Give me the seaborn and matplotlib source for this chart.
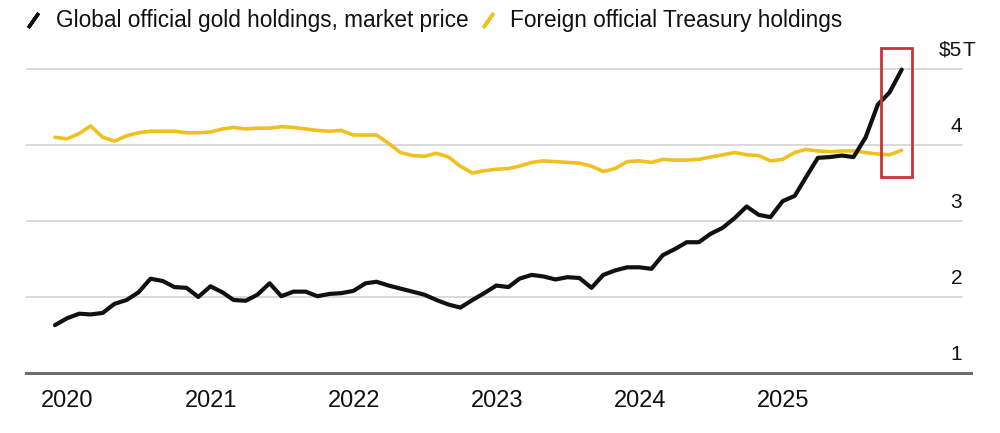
import pandas as pd
import numpy as np
import matplotlib
matplotlib.use("Agg")
import matplotlib.pyplot as plt
import matplotlib.transforms as mtransforms
from matplotlib.lines import Line2D
from matplotlib.patches import Rectangle
import seaborn as sns

# ---- data (trillions of USD, month-end) ----
dates = pd.date_range("2019-11-30", periods=72, freq="ME")

gold = [1.63, 1.72, 1.78, 1.77, 1.79, 1.91, 1.96, 2.06, 2.24, 2.21, 2.13, 2.12,
        2.00, 2.14, 2.06, 1.96, 1.95, 2.03, 2.18, 2.01, 2.07, 2.07, 2.01, 2.04,
        2.05, 2.08, 2.18, 2.20, 2.15, 2.11, 2.07, 2.03, 1.96, 1.90, 1.86, 1.96,
        2.05, 2.15, 2.13, 2.24, 2.29, 2.27, 2.23, 2.26, 2.25, 2.12, 2.29, 2.35,
        2.39, 2.39, 2.37, 2.55, 2.63, 2.72, 2.72, 2.83, 2.91, 3.04, 3.19, 3.08,
        3.05, 3.26, 3.33, 3.57, 3.83, 3.84, 3.86, 3.84, 4.10, 4.53, 4.69, 4.99]

treasury = [4.10, 4.08, 4.15, 4.25, 4.10, 4.05, 4.12, 4.16, 4.18, 4.18, 4.18, 4.16,
            4.16, 4.17, 4.21, 4.23, 4.21, 4.22, 4.22, 4.24, 4.23, 4.21, 4.19, 4.18,
            4.19, 4.13, 4.13, 4.13, 4.02, 3.90, 3.86, 3.85, 3.89, 3.84, 3.72, 3.63,
            3.66, 3.68, 3.69, 3.72, 3.77, 3.79, 3.78, 3.77, 3.76, 3.72, 3.65, 3.69,
            3.78, 3.79, 3.77, 3.81, 3.80, 3.80, 3.81, 3.84, 3.87, 3.90, 3.87, 3.86,
            3.79, 3.81, 3.90, 3.94, 3.92, 3.91, 3.92, 3.92, 3.90, 3.88, 3.87, 3.93]

series_names = ["Global official gold holdings, market price",
                "Foreign official Treasury holdings"]
series_colors = ["#111111", "#f0c020"]

years = [2020, 2021, 2022, 2023, 2024, 2025]
y_levels = [1, 2, 3, 4, 5]
y_labels = ["1", "2", "3", "4", "\\$5"]

# highlighted window (red box)
box_start, box_end = pd.Timestamp("2025-09-07"), pd.Timestamp("2025-11-27")
box_low, box_high = 3.58, 5.28

df = pd.DataFrame({"date": dates, "gold": gold, "treasury": treasury})

# ---- figure ----
sns.set_theme(style="white")
plt.rcParams["font.family"] = ["Liberation Sans", "DejaVu Sans"]
txt_color = "#111111"

fig = plt.figure(figsize=(10, 4.33), dpi=100)
ax = fig.add_axes([0.026, 0.1386, 0.945, 0.755])

for y in [2, 3, 4, 5]:
    ax.axhline(y, xmin=0, xmax=0.9905, color="#d9d9d9", lw=1.4, zorder=1)

sns.lineplot(data=df, x="date", y="treasury", ax=ax, color=series_colors[1],
             linewidth=2.6, zorder=3)
sns.lineplot(data=df, x="date", y="gold", ax=ax, color=series_colors[0],
             linewidth=3.0, zorder=4)

x0 = matplotlib.dates.date2num(box_start)
x1 = matplotlib.dates.date2num(box_end)
ax.add_patch(Rectangle((x0, box_low), x1 - x0, box_high - box_low, fill=False,
                       edgecolor="#c8323a", lw=2.0, zorder=5))

ax.set_xlim(pd.Timestamp("2019-09-17"), pd.Timestamp("2026-04-26"))
ax.set_ylim(1, 5.3)

ax.set_xticks([pd.Timestamp(f"{y}-01-01") for y in years])
ax.set_xticklabels([str(y) for y in years], fontsize=17, color=txt_color)
ax.tick_params(axis="x", direction="out", length=5.5, width=1.2, color="#777777", pad=7)
ax.set_yticks([])
ax.set_xlabel("")
ax.set_ylabel("")

for s in ["top", "right", "left"]:
    ax.spines[s].set_visible(False)
ax.spines["bottom"].set_color("#6e6e6e")
ax.spines["bottom"].set_linewidth(2.2)

# right-side value labels sitting above gridlines
trans = mtransforms.offset_copy(ax.get_yaxis_transform(), fig=fig, x=0, y=9.5, units="points")
for v, lab in zip(y_levels, y_labels):
    ax.text(0.9905, v, lab, transform=trans, ha="right", va="baseline",
            fontsize=15, color=txt_color)
ax.text(0.9905, 5, "T", transform=trans, ha="left", va="baseline",
        fontsize=15, color=txt_color)

# legend with slash markers
handles = [Line2D([], [], color=c, marker=(2, 2, -35), markersize=13,
                  markeredgewidth=2.5, linestyle="None") for c in series_colors]
fig.legend(handles, series_names, loc="center left", bbox_to_anchor=(0.022, 1 - 21 / 433),
           ncol=2, frameon=False, fontsize=16.3, handlelength=1.0, handletextpad=0.5,
           columnspacing=0.35, borderpad=0, borderaxespad=0, labelcolor=txt_color)

fig.savefig("out.png", dpi=100)
